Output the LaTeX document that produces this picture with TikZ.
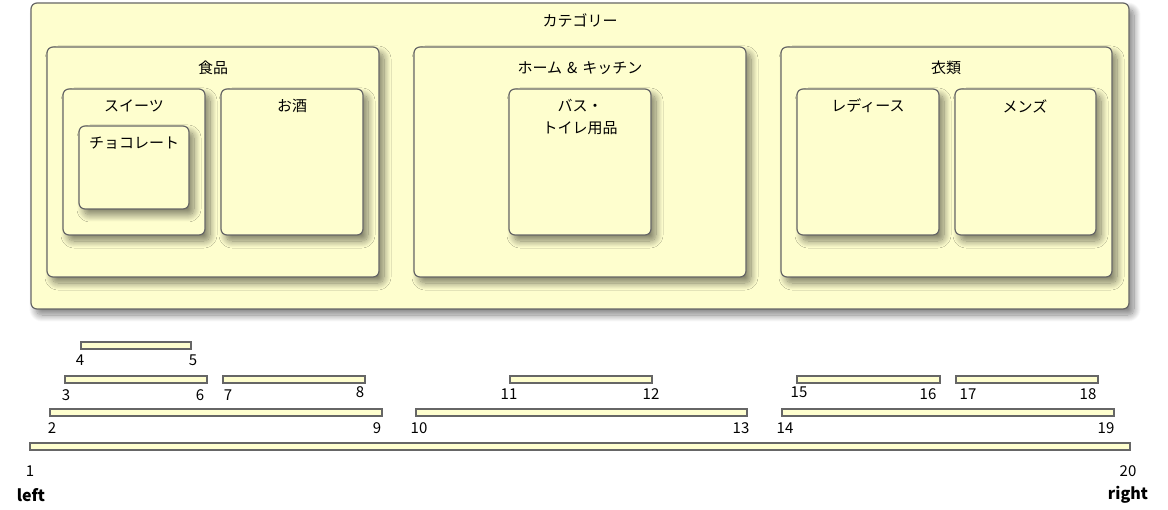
\documentclass[tikz,border=0pt]{standalone}
\usepackage{fontspec}
\setmainfont{Noto Sans CJK JP}
\usetikzlibrary{shadows.blur}

\definecolor{boxfill}{HTML}{FEFECE}
\definecolor{boxline}{HTML}{666666}

\tikzset{
  catbox/.style={draw=boxline, line width=1.2pt, fill=boxfill, rounded corners=6pt,
    blur shadow={shadow xshift=5pt, shadow yshift=-6pt, shadow blur radius=7pt,
      shadow blur steps=14, shadow opacity=50}},
  bar/.style={draw=boxline, line width=1.2pt, fill=boxfill},
  title/.style={font=\fontsize{15}{22}\selectfont, align=center, inner sep=0pt},
  num/.style={font=\fontsize{15}{15}\selectfont, inner sep=0pt},
  side/.style={font=\fontsize{16}{16}\selectfont\bfseries, inner sep=0pt}
}

\begin{document}
\begin{tikzpicture}[x=1pt,y=-1pt]
  \useasboundingbox (0,0) rectangle (1168,510);

  % boxes
  \draw[catbox] (31,3) rectangle (1129,309);
  \node[title] (cat) at (580,20) {カテゴリー};

  \draw[catbox] (47,47) rectangle (379,277);
  \node[title] (food) at (213,68) {食品};
  \draw[catbox] (63,89) rectangle (205,235);
  \node[title] (sweets) at (134,106) {スイーツ};
  \draw[catbox] (79,126) rectangle (189,209);
  \node[title] (choco) at (134,143) {チョコレート};
  \draw[catbox] (221,89) rectangle (363,235);
  \node[title] (sake) at (292,106) {お酒};

  \draw[catbox] (414,47) rectangle (746,277);
  \node[title] (home) at (580,68) {ホーム\hspace{5pt}\&\hspace{5pt}キッチン};
  \draw[catbox] (509,89) rectangle (651,235);
  \node[title] (bath) at (580,117) {バス・\\トイレ用品};

  \draw[catbox] (781,47) rectangle (1112,277);
  \node[title] (cloth) at (946,68) {衣類};
  \draw[catbox] (797,89) rectangle (939,235);
  \node[title] (ladies) at (868,106) {レディース};
  \draw[catbox] (955,89) rectangle (1096,235);
  \node[title] (mens) at (1025,106) {メンズ};

  % bars
  \foreach \xa/\xb/\y in {81/191/342, 65/207/376, 223/365/376, 510/652/376,
      797/940/376, 956/1098/376, 50/382/409, 416/747/409, 782/1114/409, 30/1130/443}
    \draw[bar] (\xa,\y) rectangle (\xb,\y+7);

  \foreach \n/\x/\y in {1/30/471, 2/52/428, 3/66/395, 4/80/360, 5/193/360,
      6/200/395, 7/228/395, 8/360/392, 9/377/428, 10/419/428, 11/509/394,
      12/651/394, 13/741/428, 14/785/428, 15/799/392, 16/928/394,
      17/968/394, 18/1088/394, 19/1106/428, 20/1128/471}
    \node[num] (n\n) at (\x,\y) {\n};

  \node[side] (left) at (31,495) {left};
  \node[side] (right) at (1128,495) {right};
\end{tikzpicture}
\end{document}
